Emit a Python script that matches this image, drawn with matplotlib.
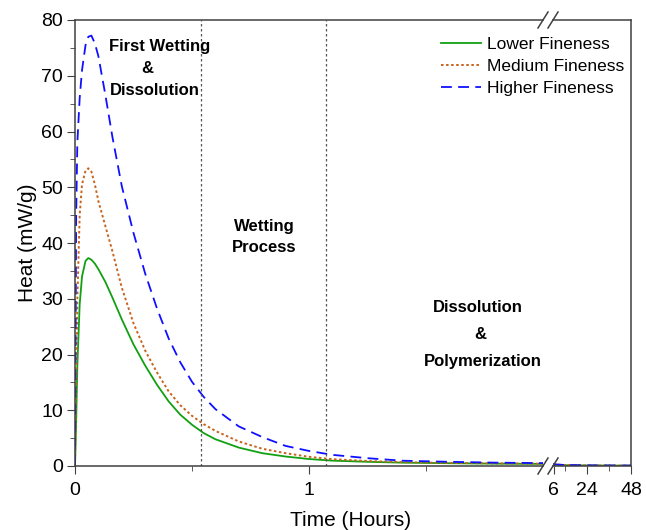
import matplotlib
matplotlib.use("Agg")
import matplotlib.pyplot as plt
from matplotlib.lines import Line2D

plt.rcParams['font.family'] = ['Liberation Sans', 'DejaVu Sans']

# hours (first segment, 0-2 h)
hours = [0, 0.005, 0.01, 0.02, 0.03, 0.045, 0.057, 0.07, 0.085, 0.1, 0.13, 0.16, 0.2,
         0.25, 0.3, 0.35, 0.4, 0.45, 0.5, 0.55, 0.6, 0.7, 0.8, 0.9, 1.0, 1.1,
         1.25, 1.4, 1.6, 1.8, 2.0]
lower = [0, 8, 18, 29, 34, 36.8, 37.3, 37.0, 36.3, 35.3, 33.0, 30.2, 26.3,
         21.8, 18.0, 14.6, 11.6, 9.2, 7.4, 5.9, 4.8, 3.3, 2.3, 1.7, 1.25, 0.96,
         0.75, 0.6, 0.5, 0.42, 0.38]
medium = [0, 15, 30, 45, 50.5, 53.0, 53.4, 52.8, 50.5, 47.5, 43.0, 38.5, 32.0,
          25.6, 20.7, 16.8, 13.4, 10.9, 9.0, 7.5, 6.3, 4.4, 3.1, 2.3, 1.65, 1.22,
          0.9, 0.68, 0.55, 0.47, 0.42]
higher = [0, 45, 58, 66, 71, 75.5, 77.0, 77.2, 75.8, 73.5, 66.5, 59.0, 50.2,
          41.8, 34.5, 28.3, 22.9, 18.6, 15.1, 12.4, 10.2, 7.1, 5.2, 3.6, 2.7, 2.0,
          1.4, 0.95, 0.75, 0.6, 0.52]

# hours (second segment, after the break)
hours_late = [5.5, 6, 12, 24, 36, 48]
lower_late = [0.27, 0.25, 0.15, 0.1, 0.08, 0.06]
medium_late = [0.3, 0.28, 0.17, 0.11, 0.09, 0.07]
higher_late = [0.32, 0.3, 0.18, 0.12, 0.1, 0.08]

labels = ['Lower Fineness', 'Medium Fineness', 'Higher Fineness']
colors = ['#11a011', '#c8641e', '#1010ff']
phase_bounds = [0.537, 1.071]

W, H = 646, 530
fig = plt.figure(figsize=(W / 100, H / 100), dpi=100)
x0, x1, x2, x3 = 75, 543, 553, 631
y0, y1 = 466, 20
ax = fig.add_axes([x0 / W, 1 - y0 / H, (x1 - x0) / W, (y0 - y1) / H])
ax2 = fig.add_axes([x2 / W, 1 - y0 / H, (x3 - x2) / W, (y0 - y1) / H], sharey=ax)

spine_c = '#404040'
for a, t, s in [(ax, hours, [lower, medium, higher]),
                (ax2, hours_late, [lower_late, medium_late, higher_late])]:
    a.plot(t, s[0], color=colors[0], lw=1.3, label=labels[0])
    a.plot(t, s[1], color=colors[1], lw=1.4, dashes=(1.3, 1.3), label=labels[1])
    a.plot(t, s[2], color=colors[2], lw=1.3, dashes=(6, 3.5), label=labels[2])
    for sp in a.spines.values():
        sp.set_color(spine_c)
        sp.set_linewidth(1.1)
    a.tick_params(which='both', direction='out', color=spine_c, labelsize=14,
                  top=False, right=False)
    a.tick_params(which='major', length=6)
    a.tick_params(which='minor', length=3.5)
    a.tick_params(axis='x', pad=5.5)
    a.tick_params(axis='y', pad=2.5)

ax.set_xlim(0, 2.0)
ax.set_ylim(0, 80)
ax.set_xticks([0, 1])
ax.set_xticks([0.5, 1.5], minor=True)
ax.set_yticks(range(0, 81, 10))
ax.set_yticks(range(5, 80, 10), minor=True)
ax.spines['right'].set_visible(False)

ax2.set_xlim(5.5, 48)
ax2.set_xticks([6, 24, 48])
ax2.set_xticks([12, 36], minor=True)
ax2.spines['left'].set_visible(False)
ax2.tick_params(axis='y', which='both', left=False, labelleft=False)

for b in phase_bounds:
    ax.axvline(b, color='#555555', lw=0.9, dashes=(2, 2))

ax.set_ylabel('Heat (mW/g)', fontsize=15, labelpad=3)
fig.text(351 / W, 1 - 520 / H, 'Time (Hours)', fontsize=15, ha='center', va='center')

tk = dict(fontsize=12, fontweight='bold', ha='center', va='center')
ax.text(0.363, 75.3, 'First Wetting', **tk)
ax.text(0.308, 71.3, '&', **tk)
ax.text(0.342, 67.4, 'Dissolution', **tk)
ax.text(0.81, 43.0, 'Wetting', **tk)
ax.text(0.81, 39.2, 'Process', **tk)
ax.text(1.722, 28.5, 'Dissolution', **tk)
ax.text(1.731, 23.5, '&', **tk)
ax.text(1.744, 18.8, 'Polymerization', **tk)

# break marks
for yc in (y0, y1):
    for xc in (x1, x2):
        fig.add_artist(Line2D([(xc - 5) / W, (xc + 5) / W],
                              [1 - (yc + 8) / H, 1 - (yc - 8) / H],
                              color=spine_c, lw=1.1))

h, l = ax.get_legend_handles_labels()
fig.legend(h, l, loc='upper right', bbox_to_anchor=(624 / W, 1 - 37 / H),
           frameon=False, fontsize=12.5, handlelength=2.3, handletextpad=0.35,
           labelspacing=0.38, borderpad=0, borderaxespad=0)

fig.savefig('out.png', dpi=100)
